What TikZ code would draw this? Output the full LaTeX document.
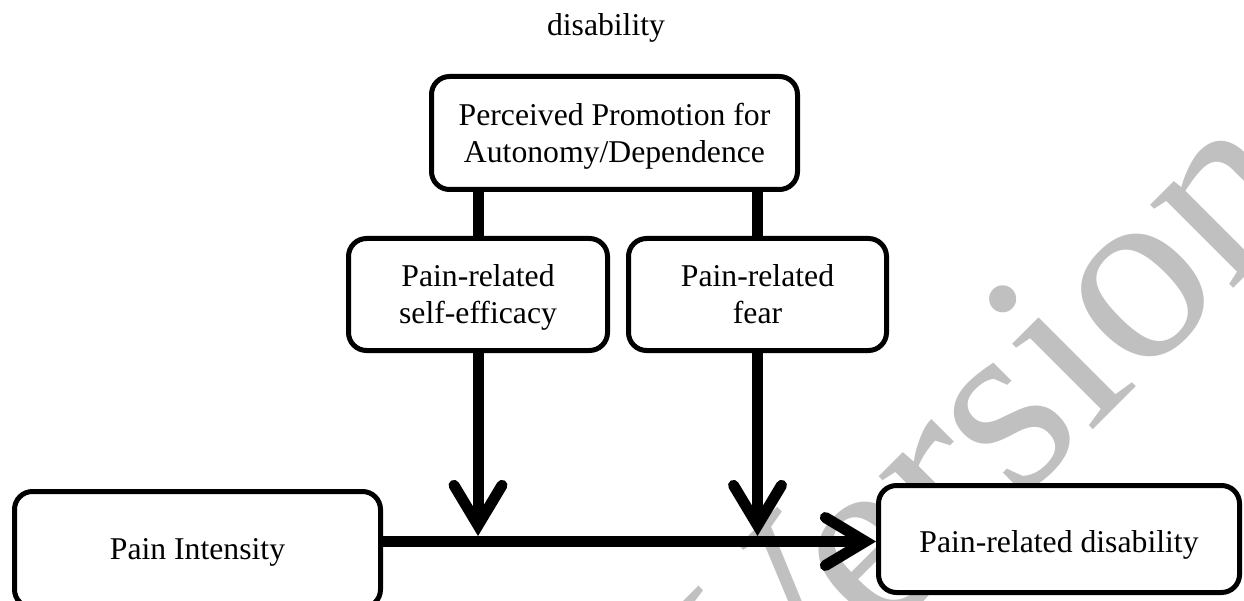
\documentclass[tikz,border=0pt]{standalone}
\usepackage{fontspec}
\setmainfont{Liberation Serif}
\usetikzlibrary{arrows.meta}
\definecolor{wmgray}{RGB}{192,192,192}
\begin{document}
\begin{tikzpicture}[x=1pt,y=1pt,
  box/.style={draw, line width=5pt, fill=white, rounded corners=18pt, inner sep=0pt,
    align=center, text depth=0pt, font=\fontsize{31.7}{37}\selectfont},
  conn/.style={line width=11pt},
  arr/.style={line width=11pt, -{Straight Barb[length=40pt,width=48pt,line cap=round,line join=miter]}}]
\useasboundingbox (0,0) rectangle (1244,-601);
\begin{scope}
\clip (0,0) rectangle (1244,-601);
\node[rotate=45, anchor=base west, inner sep=0pt, text=wmgray,
  font=\fontsize{256}{256}\selectfont] (wm) at (767,-755) {Version};
\end{scope}
\node[anchor=base, inner sep=0pt, font=\fontsize{31.7}{37}\selectfont] (title) at (606,-36) {disability};
\node[box, minimum width=366pt, minimum height=113pt] (top) at (614.5,-133)
  {Perceived Promotion for\\Autonomy/Dependence};
\node[box, minimum width=259pt, minimum height=112pt] (se) at (478,-294.5)
  {Pain-related\\self-efficacy};
\node[box, minimum width=258pt, minimum height=112pt] (fear) at (757.5,-294.5)
  {Pain-related\\fear};
\node[box, minimum width=366pt, minimum height=116pt] (pi) at (197.5,-549.5)
  {Pain Intensity};
\node[box, text height=26pt, minimum width=361pt, minimum height=107pt] (prd) at (1059,-539)
  {Pain-related disability};
\coordinate (h) at (0,-541.5);
\coordinate (hb) at (0,-536);
\draw[conn] (top.south -| se.north) -- (se.north);
\draw[conn] (top.south -| fear.north) -- (fear.north);
\draw[arr] (se.south) -- (se.south |- hb);
\draw[arr] (fear.south) -- (fear.south |- hb);
\draw[arr] (pi.east |- h) -- (prd.west |- h);
\end{tikzpicture}
\end{document}
